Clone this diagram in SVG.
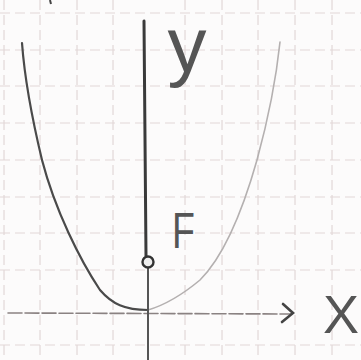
<svg xmlns="http://www.w3.org/2000/svg" width="361" height="360" viewBox="0 0 361 360">
<style>
.grid line{stroke:#e2d8d8;stroke-width:1.2;stroke-dasharray:10 5}
.lbl{font-family:"Liberation Sans",Arial,sans-serif;fill:#555}
</style>
<rect width="361" height="360" fill="#fcfbfb"/>
<g class="grid">
<line x1="4" y1="0" x2="4" y2="360"/><line x1="40" y1="0" x2="40" y2="360"/><line x1="77" y1="0" x2="77" y2="360"/><line x1="113" y1="0" x2="113" y2="360"/><line x1="185" y1="0" x2="185" y2="360"/><line x1="222" y1="0" x2="222" y2="360"/><line x1="258" y1="0" x2="258" y2="360"/><line x1="295" y1="0" x2="295" y2="360"/><line x1="332" y1="0" x2="332" y2="360"/>
<line x1="0" y1="13" x2="361" y2="13"/><line x1="0" y1="50" x2="361" y2="50"/><line x1="0" y1="86" x2="361" y2="86"/><line x1="0" y1="123" x2="361" y2="123"/><line x1="0" y1="160" x2="361" y2="160"/><line x1="0" y1="197" x2="361" y2="197"/><line x1="0" y1="233" x2="361" y2="233"/><line x1="0" y1="270" x2="361" y2="270"/><line x1="0" y1="345" x2="361" y2="345"/>
</g>
<path d="M50 0 L51 4" stroke="#444" stroke-width="2"/>
<g id="parabola" fill="none" stroke-linecap="round">
<path d="M22 43 C24 70 30 110 42 160 C55 210 80 260 100 290 C112 304 125 310 148 310" stroke="#4a4a4a" stroke-width="2.2"/>
<path d="M148 310 C165 305 182 295 200 280 C222 258 240 220 257 160 C268 120 276 80 280 42" stroke="#b4b0b0" stroke-width="1.6"/>
</g>
<g id="axes" stroke-linecap="round" fill="none">
<path d="M8 313 L292 314" stroke="#8a8282" stroke-width="1.6" stroke-dasharray="14 3"/>
<path d="M283 304 L293 313 L282 322" stroke="#444" stroke-width="2.6"/>
<path d="M144 21 L146 256" stroke="#3a3a3a" stroke-width="3"/>
<path d="M148 268 L148 360" stroke="#555" stroke-width="2"/>
</g>
<g id="focus">
<circle cx="148" cy="262" r="5.5" fill="#eee" stroke="#333" stroke-width="2.4"/>
<text class="lbl" x="172" y="248" font-size="50" transform="translate(172 0) scale(0.75 1) translate(-172 0)" fill="#666">F</text>
</g>
<g id="labels">
<text class="lbl" x="187" y="72" font-size="78" text-anchor="middle" fill="#6a6a6a">y</text>
<text class="lbl" x="341" y="333" font-size="54" text-anchor="middle" fill="#555">X</text>
</g>
</svg>
